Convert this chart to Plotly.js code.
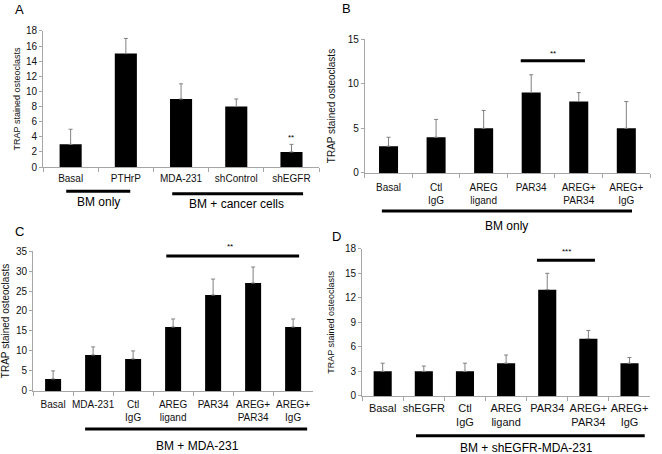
<!DOCTYPE html>
<html><head><meta charset="utf-8">
<script src="https://cdn.plot.ly/plotly-3.0.1.min.js"></script>
<style>html,body{margin:0;padding:0;background:#fff}#chart{width:662px;height:454px}</style>
</head><body><div id="chart"></div>
<script>
const catsA = ['Basal','PTHrP','MDA-231','shControl','shEGFR'];
const valsA = [3,15,9,8,2];
const errA  = [2,2,2,1,1];

const catsB = ['Basal','Ctl<br>IgG','AREG<br>ligand','PAR34','AREG+<br>PAR34','AREG+<br>IgG'];
const valsB = [3,4,5,9,8,5];
const errB  = [1,2,2,2,1,3];

const catsC = ['Basal','MDA-231','Ctl<br>IgG','AREG<br>ligand','PAR34','AREG+<br>PAR34','AREG+<br>IgG'];
const valsC = [3,9,8,16,24,27,16];
const errC  = [2,2,2,2,4,4,2];

const catsD = ['Basal','shEGFR','Ctl<br>IgG','AREG<br>ligand','PAR34','AREG+<br>PAR34','AREG+<br>IgG'];
const valsD = [3,3,3,4,13,7,4];
const errD  = [1,0.65,1,1,2,1,0.7];

const yTitle = 'TRAP stained osteoclasts';
const groupA1 = 'BM only', groupA2 = 'BM + cancer cells';
const groupB = 'BM only', groupC = 'BM + MDA-231', groupD = 'BM + shEGFR-MDA-231';

const FONT = '"Liberation Sans", Arial, Helvetica, sans-serif';
const AX = '#a6a6a6';

function bar(x, y, e, xa, ya, w) {
  return {type:'bar', x:x, y:y, xaxis:xa, yaxis:ya, width:w,
    marker:{color:'#000', line:{width:0}},
    error_y:{type:'data', symmetric:false, array:e, arrayminus:e.map(()=>0),
      color:'#808080', thickness:1, width:2},
    hoverinfo:'skip', showlegend:false};
}
function xax(dom, anchor, fsize, standoff) {
  return {domain:dom, anchor:anchor, type:'category', showline:true, linecolor:AX, linewidth:1,
    ticks:'outside', tickson:'boundaries', ticklen:4, tickcolor:AX, showgrid:false, zeroline:false,
    tickangle:0, tickfont:{size:fsize, color:'#111'}, ticklabelstandoff:standoff, automargin:false};
}
function yax(dom, anchor, range, dtick, tsize, standoff) {
  return {domain:dom, anchor:anchor, range:range, dtick:dtick, tick0:0, showline:true, linecolor:AX,
    linewidth:1, ticks:'outside', ticklen:3, tickcolor:AX, showgrid:false, zeroline:false,
    tickfont:{size:10, color:'#111'}, automargin:false,
    title:{text:yTitle, font:{size:tsize, color:'#111'}, standoff:standoff}};
}

const data = [
  bar(catsA, valsA, errA, 'x', 'y', 0.4),
  bar(catsB, valsB, errB, 'x2', 'y2', 0.4),
  bar(catsC, valsC, errC, 'x3', 'y3', 0.4),
  bar(catsD, valsD, errD, 'x4', 'y4', 0.44)
];

function hline(xref, x0, x1, y) {
  return {type:'line', xref:xref, yref:'paper', x0:x0, x1:x1, y0:y, y1:y, line:{color:'#000', width:3}};
}
function txt(xref, x, y, text, size) {
  return {xref:xref, yref:'paper', x:x, y:y, text:text, showarrow:false, font:{size:size, color:'#000'},
    xanchor:'center', yanchor:'middle'};
}
function letter(x, y, t) {
  return {xref:'paper', yref:'paper', x:x, y:y, text:t, showarrow:false, font:{size:13, color:'#000'},
    xanchor:'center', yanchor:'middle'};
}

const layout = {
  width:662, height:454, margin:{l:0, r:0, t:0, b:0},
  paper_bgcolor:'#fff', plot_bgcolor:'rgba(0,0,0,0)',
  font:{family:FONT, color:'#000'},
  showlegend:false,
  xaxis: xax([0.065, 0.482], 'y', 10, 2),
  yaxis: yax([0.632, 0.932], 'x', [0, 18], 2, 9, 3),
  xaxis2: xax([0.551, 0.982], 'y2', 10, 5),
  yaxis2: yax([0.619, 0.914], 'x2', [0, 15], 5, 10, 10),
  xaxis3: xax([0.050, 0.473], 'y3', 10, 4),
  yaxis3: yax([0.139, 0.447], 'x3', [0, 35], 5, 10, 8),
  xaxis4: xax([0.547, 0.982], 'y4', 11, 2),
  yaxis4: yax([0.128, 0.452], 'x4', [0, 18], 3, 9, 8),
  shapes: [
    hline('x', -0.08, 1.08, 0.579),
    hline('x', 1.84, 4.21, 0.573),
    hline('x2', 2.78, 4.13, 0.866),
    hline('x2', -0.14, 5.12, 0.535),
    hline('x3', 2.83, 6.15, 0.436),
    hline('x3', 0.80, 6.35, 0.055),
    hline('x4', 3.75, 5.16, 0.427),
    hline('x4', 0.81, 6.37, 0.040)
  ],
  annotations: [
    letter(0.030, 0.980, 'A'), letter(0.524, 0.982, 'B'),
    letter(0.030, 0.489, 'C'), letter(0.509, 0.478, 'D'),
    txt('x', 0.5, 0.555, groupA1, 12),
    txt('x', 3.0, 0.551, groupA2, 12),
    txt('x', 4, 0.698, '**', 8),
    txt('x2', 3.45, 0.883, '**', 8),
    txt('x2', 2.49, 0.502, groupB, 12),
    txt('x3', 4.43, 0.458, '**', 8),
    txt('x3', 3.6, 0.018, groupC, 12),
    txt('x4', 4.48, 0.447, '***', 8),
    txt('x4', 3.5, 0.013, groupD, 12)
  ]
};

Plotly.newPlot('chart', data, layout, {staticPlot:true, displayModeBar:false});
</script>
</body></html>
